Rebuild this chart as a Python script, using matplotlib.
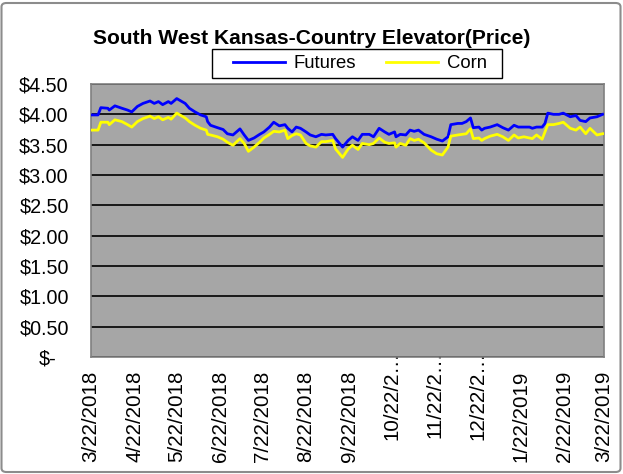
import numpy as np
import pandas as pd
import matplotlib
matplotlib.use("Agg")
import matplotlib.pyplot as plt
from matplotlib.patches import FancyBboxPatch, Rectangle
from matplotlib.lines import Line2D
import matplotlib.transforms as mtransforms

plt.rcParams['font.family'] = ['Liberation Sans', 'DejaVu Sans']

# valeurs
dates = ["2018-03-22", "2018-03-27", "2018-03-29", "2018-04-03", "2018-04-04", "2018-04-08",
         "2018-04-13", "2018-04-17", "2018-04-20", "2018-04-24", "2018-04-28", "2018-05-03",
         "2018-05-06", "2018-05-09", "2018-05-12", "2018-05-16", "2018-05-18", "2018-05-22",
         "2018-05-28", "2018-05-31", "2018-06-04", "2018-06-08", "2018-06-12", "2018-06-13",
         "2018-06-15", "2018-06-20", "2018-06-24", "2018-06-27", "2018-07-01", "2018-07-06",
         "2018-07-09", "2018-07-12", "2018-07-16", "2018-07-20", "2018-07-23", "2018-07-27",
         "2018-07-30", "2018-08-03", "2018-08-07", "2018-08-09", "2018-08-12", "2018-08-15",
         "2018-08-18", "2018-08-22", "2018-08-25", "2018-08-29", "2018-09-02", "2018-09-05",
         "2018-09-10", "2018-09-12", "2018-09-17", "2018-09-21", "2018-09-24", "2018-09-28",
         "2018-10-01", "2018-10-06", "2018-10-09", "2018-10-13", "2018-10-17", "2018-10-20",
         "2018-10-24", "2018-10-25", "2018-10-28", "2018-11-01", "2018-11-04", "2018-11-07",
         "2018-11-10", "2018-11-14", "2018-11-19", "2018-11-23", "2018-11-27", "2018-12-01",
         "2018-12-03", "2018-12-08", "2018-12-11", "2018-12-14", "2018-12-17", "2018-12-19",
         "2018-12-23", "2018-12-25", "2018-12-27", "2018-12-31", "2019-01-05", "2019-01-09",
         "2019-01-13", "2019-01-17", "2019-01-20", "2019-01-24", "2019-01-28", "2019-01-30",
         "2019-02-02", "2019-02-06", "2019-02-08", "2019-02-10", "2019-02-14", "2019-02-18",
         "2019-02-21", "2019-02-26", "2019-03-02", "2019-03-05", "2019-03-09", "2019-03-12",
         "2019-03-17", "2019-03-21"]

futures = [3.99, 3.99, 4.11, 4.10, 4.07, 4.14, 4.10, 4.07, 4.04, 4.13, 4.18, 4.22,
           4.18, 4.21, 4.16, 4.21, 4.18, 4.26, 4.18, 4.10, 4.04, 3.99, 3.96, 3.88,
           3.82, 3.78, 3.75, 3.68, 3.66, 3.76, 3.66, 3.57, 3.61, 3.67, 3.71, 3.79,
           3.87, 3.81, 3.83, 3.77, 3.71, 3.79, 3.77, 3.71, 3.66, 3.63, 3.67, 3.66,
           3.67, 3.60, 3.46, 3.57, 3.63, 3.57, 3.67, 3.67, 3.63, 3.77, 3.71, 3.67,
           3.71, 3.63, 3.67, 3.66, 3.74, 3.72, 3.74, 3.67, 3.63, 3.59, 3.56, 3.63,
           3.83, 3.85, 3.85, 3.88, 3.94, 3.78, 3.79, 3.74, 3.77, 3.79, 3.83, 3.78,
           3.74, 3.82, 3.79, 3.79, 3.79, 3.77, 3.79, 3.79, 3.85, 4.02, 4.00, 4.00,
           4.02, 3.96, 3.98, 3.90, 3.88, 3.94, 3.96, 4.00]

corn = [3.74, 3.74, 3.87, 3.87, 3.83, 3.91, 3.88, 3.83, 3.79, 3.88, 3.93, 3.97,
        3.93, 3.96, 3.91, 3.95, 3.92, 4.02, 3.94, 3.88, 3.82, 3.77, 3.74, 3.67,
        3.66, 3.63, 3.59, 3.54, 3.49, 3.60, 3.52, 3.39, 3.46, 3.54, 3.61, 3.67,
        3.72, 3.71, 3.74, 3.60, 3.65, 3.68, 3.66, 3.52, 3.48, 3.46, 3.55, 3.55,
        3.57, 3.43, 3.29, 3.43, 3.49, 3.42, 3.52, 3.50, 3.52, 3.61, 3.54, 3.52,
        3.53, 3.46, 3.52, 3.49, 3.60, 3.57, 3.59, 3.53, 3.41, 3.35, 3.33, 3.46,
        3.64, 3.66, 3.67, 3.68, 3.76, 3.60, 3.61, 3.57, 3.60, 3.64, 3.67, 3.63,
        3.57, 3.66, 3.61, 3.63, 3.61, 3.60, 3.66, 3.59, 3.71, 3.83, 3.83, 3.85,
        3.87, 3.77, 3.74, 3.79, 3.68, 3.77, 3.66, 3.68]

tick_dates = ["2018-03-22", "2018-04-22", "2018-05-22", "2018-06-22", "2018-07-22",
              "2018-08-22", "2018-09-22", "2018-10-22", "2018-11-22", "2018-12-22",
              "2019-01-22", "2019-02-22", "2019-03-22"]
tick_labels = ["3/22/2018", "4/22/2018", "5/22/2018", "6/22/2018", "7/22/2018",
               "8/22/2018", "9/22/2018", "10/22/2\u2026", "11/22/2\u2026", "12/22/2\u2026",
               "1/22/2019", "2/22/2019", "3/22/2019"]
y_ticks = [0, 0.5, 1.0, 1.5, 2.0, 2.5, 3.0, 3.5, 4.0, 4.5]
y_labels = ["$-", "$0.50", "$1.00", "$1.50", "$2.00", "$2.50", "$3.00", "$3.50", "$4.00", "$4.50"]

W, H = 623, 474
fig = plt.figure(figsize=(W / 100, H / 100), dpi=100)
ax = fig.add_axes([91 / W, 1 - 357 / H, (604 - 91) / W, (357 - 84) / H])
ax.set_facecolor('#a6a6a6')

x = pd.to_datetime(dates)
ax.plot(x, futures, color='#0000ff', lw=2.0, zorder=3)
ax.plot(x, corn, color='#ffff00', lw=2.0, zorder=3)

ax.set_ylim(0, 4.5)
ax.set_xlim(pd.Timestamp("2018-03-22"), pd.Timestamp("2019-03-22"))
ax.set_yticks(y_ticks)
ax.set_yticklabels(y_labels, fontsize=14.2)
ax.set_xticks(pd.to_datetime(tick_dates))
ax.set_xticklabels(tick_labels, rotation=90, fontsize=14.8, va='top', ha='center')
ax.tick_params(axis='both', length=0)
ax.tick_params(axis='y', pad=16)
ax.tick_params(axis='x', pad=10)
ax.yaxis.grid(True, color='black', lw=1.2)
ax.set_axisbelow(True)
for s in ax.spines.values():
    s.set_color('#808080')
    s.set_linewidth(1.2)

# le "$-" est décalé comme dans le format comptable
off = mtransforms.ScaledTranslation(-12 / 100, 0, fig.dpi_scale_trans)
lab0 = ax.get_yticklabels()[0]
lab0.set_transform(lab0.get_transform() + off)

# les étiquettes tronquées remontent
up = mtransforms.ScaledTranslation(0, 20 / 100, fig.dpi_scale_trans)
for lab in ax.get_xticklabels()[7:10]:
    lab.set_transform(lab.get_transform() + up)

fig.text(0.5, 1 - 38 / H, "South West Kansas-Country Elevator(Price)",
         ha='center', va='center', fontsize=15.1, fontweight='bold')

# cadre de la légende
fig.add_artist(Rectangle((212 / W, 1 - 78 / H), (502 - 212) / W, 29 / H,
                         transform=fig.transFigure, fill=True, fc='white',
                         ec='black', lw=1))
handles = [Line2D([], [], color='#0000ff', lw=2.0), Line2D([], [], color='#ffff00', lw=2.0)]
fig.legend(handles, ["Futures", "Corn"], loc='center', bbox_to_anchor=(360 / W, 1 - 63.5 / H),
           ncol=2, frameon=False, fontsize=13.3, handlelength=2.8, handletextpad=0.5,
           columnspacing=1.6, borderpad=0.2)

fig.add_artist(FancyBboxPatch((1.5 / W, 2 / H), (W - 4) / W, (H - 5) / H,
                              boxstyle='round,pad=0,rounding_size=0.008',
                              transform=fig.transFigure, fill=False, ec='#8c8c8c', lw=1.5))

fig.savefig("out.png", dpi=100)
